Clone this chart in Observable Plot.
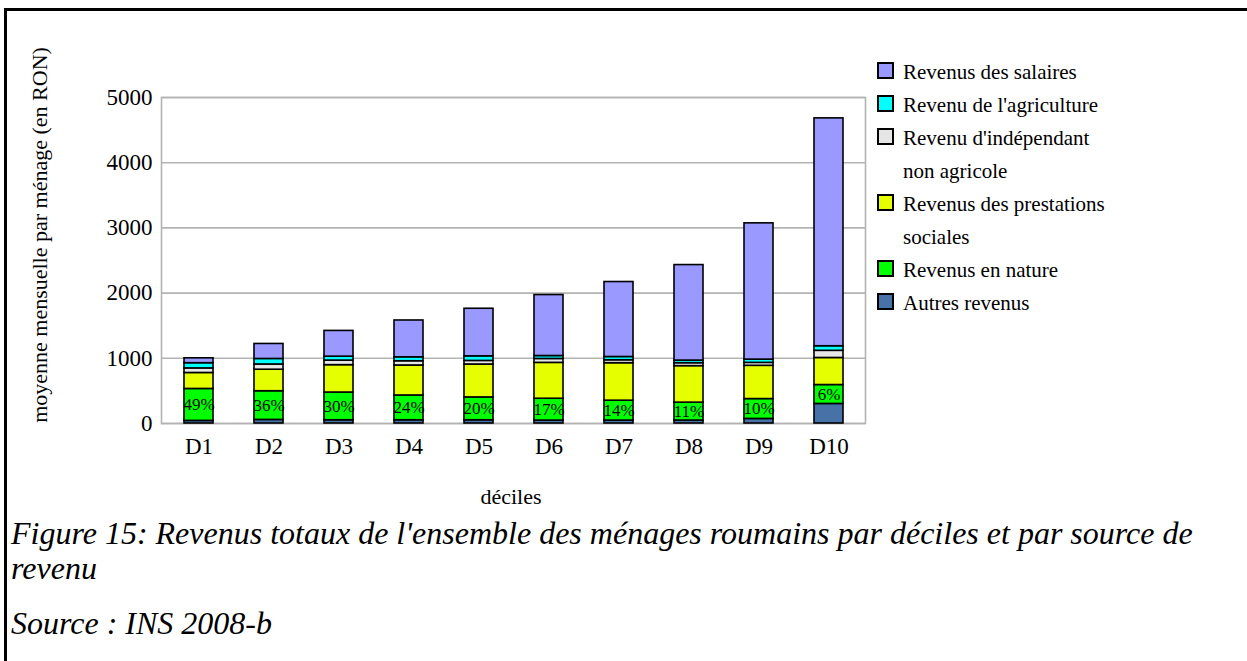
<!DOCTYPE html>
<html>
<head>
<meta charset="utf-8">
<script src="https://cdn.jsdelivr.net/npm/d3@7"></script>
<script src="https://cdn.jsdelivr.net/npm/@observablehq/plot@0.6"></script>
<style>
  html, body { margin: 0; padding: 0; background: #fff; }
  #page { position: relative; width: 1247px; height: 661px; overflow: hidden; font-family: "Liberation Serif", "Times New Roman", serif; color: #000; }
  #box { position: absolute; left: 4px; top: 8px; right: -10px; bottom: -10px; border-top: 3px solid #000; border-left: 3px solid #000; }
  #chart { position: absolute; left: 0; top: 0; }
  #ylabel { position: absolute; left: 40px; top: 235px; transform: translate(-50%, -50%) rotate(-90deg); white-space: nowrap; font-size: 22px; }
  #xlabel { position: absolute; left: 511px; top: 497px; transform: translate(-50%, -50%); font-size: 22px; }
  #legend { position: absolute; left: 877px; top: 56px; font-size: 21px; line-height: 33px; }
  .item { position: relative; padding-left: 26px; }
  .sw { position: absolute; left: 0; top: 6px; width: 13px; height: 13px; border: 2px solid #000; }
  #caption { position: absolute; left: 11px; top: 516px; font-style: italic; font-size: 32px; line-height: 35px; white-space: nowrap; }
  #caption .gap { height: 20px; }
</style>
</head>
<body>
<div id="page">
  <div id="box"></div>
  <div id="chart"></div>
  <div id="ylabel"></div>
  <div id="xlabel"></div>
  <div id="legend"></div>
  <div id="caption"></div>
</div>
<script>
// ---- data ----
const deciles = ["D1", "D2", "D3", "D4", "D5", "D6", "D7", "D8", "D9", "D10"];
const sources = ["Autres revenus", "Revenus en nature", "Revenus des prestations sociales",
  "Revenu d'indépendant non agricole", "Revenu de l'agriculture", "Revenus des salaires"];
const colors = ["#4672a8", "#00ff00", "#e6ff00", "#e6e6e6", "#00ffff", "#9999ff"];
const autres      = [40, 55, 50, 50, 50, 45, 45, 45, 70, 300];
const nature      = [490, 440, 425, 380, 350, 335, 305, 275, 305, 290];
const prestations = [245, 330, 420, 460, 505, 550, 575, 560, 510, 415];
const independant = [70, 80, 70, 65, 55, 60, 45, 45, 45, 110];
const agriculture = [80, 85, 60, 60, 70, 45, 50, 40, 50, 70];
const salaires    = [75, 230, 395, 565, 730, 935, 1150, 1465, 2090, 3495];
const pctLabels = ["49%", "36%", "30%", "24%", "20%", "17%", "14%", "11%", "10%", "6%"];
const yTicks = [0, 1000, 2000, 3000, 4000, 5000];
const legendLines = [
  ["Revenus des salaires"],
  ["Revenu de l'agriculture"],
  ["Revenu d'indépendant", "non agricole"],
  ["Revenus des prestations", "sociales"],
  ["Revenus en nature"],
  ["Autres revenus"]
];
const legendSources = ["Revenus des salaires", "Revenu de l'agriculture", "Revenu d'indépendant non agricole",
  "Revenus des prestations sociales", "Revenus en nature", "Autres revenus"];
const yTitle = "moyenne mensuelle par ménage (en RON)";
const xTitle = "déciles";
const captionLines = ["Figure 15: Revenus totaux de l'ensemble des ménages roumains par déciles et par source de", "revenu", "", "Source : INS 2008-b"];

// ---- build table ----
const series = [autres, nature, prestations, independant, agriculture, salaires];
const rows = [];
sources.forEach((s, i) => deciles.forEach((d, j) => rows.push({decile: d, source: s, value: series[i][j]})));
const labels = deciles.map((d, j) => ({decile: d, y: autres[j] + nature[j] / 2, label: pctLabels[j]}));

const chart = Plot.plot({
  width: 1247,
  height: 520,
  marginTop: 97,
  marginBottom: 97,
  marginLeft: 161,
  marginRight: 382,
  style: {fontFamily: "Liberation Serif, serif", fontSize: "23px", color: "#000", background: "transparent"},
  x: {domain: deciles, paddingInner: 0.59, paddingOuter: 0.295, label: null},
  y: {domain: [0, 5000], label: null},
  color: {domain: sources, range: colors},
  marks: [
    Plot.gridY(yTicks, {stroke: "#b3b3b3", strokeOpacity: 1, strokeWidth: 1.6}),
    Plot.frame({stroke: "#b3b3b3", strokeWidth: 1.6}),
    Plot.axisY({ticks: yTicks, tickSize: 0, tickPadding: 9, label: null, fontSize: 23, tickFormat: d => String(d)}),
    Plot.axisX({tickSize: 0, tickPadding: 14, label: null, fontSize: 23}),
    Plot.barY(rows, {x: "decile", y: "value", fill: "source", order: sources, stroke: "#000", strokeWidth: 1.6}),
    Plot.text(labels, {x: "decile", y: "y", text: "label", fontSize: 17, fill: "#000"})
  ]
});
document.getElementById("chart").appendChild(chart);

document.getElementById("ylabel").textContent = yTitle;
document.getElementById("xlabel").textContent = xTitle;

const legend = document.getElementById("legend");
legendLines.forEach((lines, i) => {
  const it = document.createElement("div");
  it.className = "item";
  const sw = document.createElement("span");
  sw.className = "sw";
  sw.style.background = colors[sources.indexOf(legendSources[i])];
  it.appendChild(sw);
  lines.forEach(l => { const t = document.createElement("div"); t.textContent = l; it.appendChild(t); });
  legend.appendChild(it);
});

const cap = document.getElementById("caption");
captionLines.forEach(l => {
  const t = document.createElement("div");
  if (l) t.textContent = l; else t.className = "gap";
  cap.appendChild(t);
});
</script>
</body>
</html>
